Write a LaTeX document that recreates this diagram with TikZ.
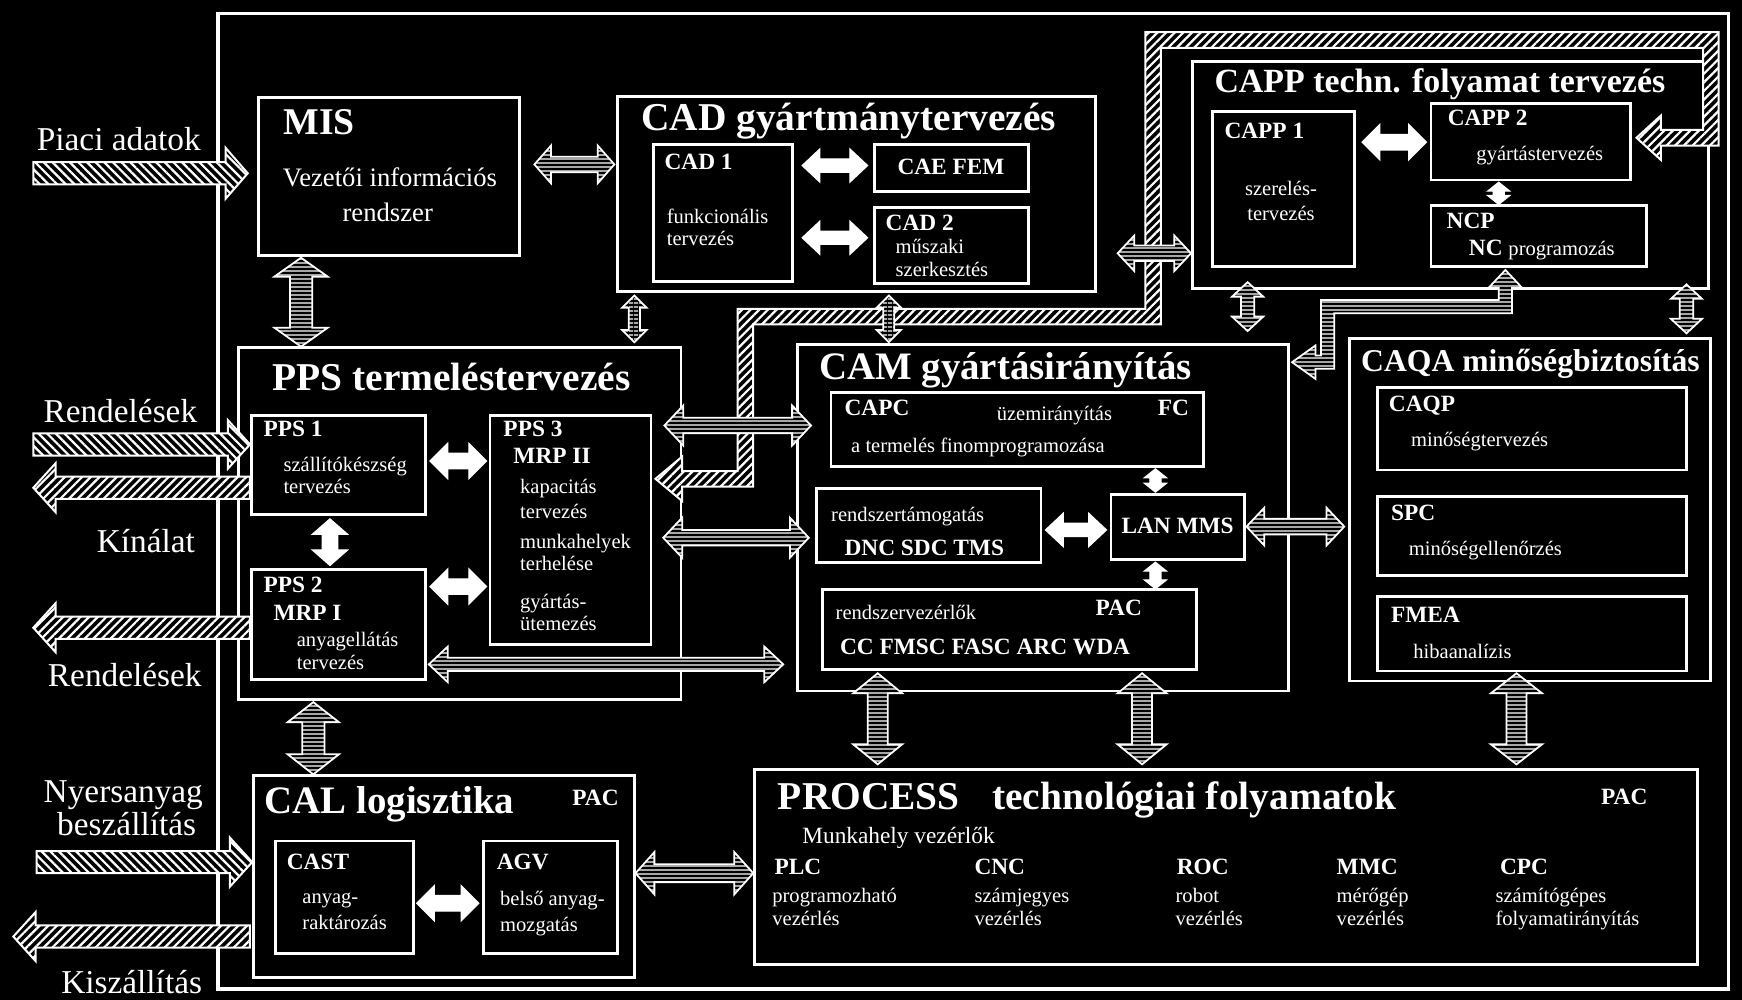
\documentclass[tikz,border=0pt]{standalone}
\usepackage{fontspec}
\setmainfont{Liberation Serif}
\usetikzlibrary{calc,patterns.meta}

% block arrow with a head at both ends:
% #1 style, #2 start, #3 end, #4 head length, #5 head half-width, #6 body half-width
\newcommand\fatarrow[6]{%
  \path (#2) coordinate (fa-a) (#3) coordinate (fa-b);
  \path ($(fa-a)!#4!(fa-b)$) coordinate (fa-ah) ($(fa-b)!#4!(fa-a)$) coordinate (fa-bh);
  \path[#1] (fa-a) -- ($(fa-ah)!#5!90:(fa-b)$) -- ($(fa-ah)!#6!90:(fa-b)$)
    -- ($(fa-bh)!#6!-90:(fa-a)$) -- ($(fa-bh)!#5!-90:(fa-a)$) -- (fa-b)
    -- ($(fa-bh)!#5!90:(fa-a)$) -- ($(fa-bh)!#6!90:(fa-a)$)
    -- ($(fa-ah)!#6!-90:(fa-b)$) -- ($(fa-ah)!#5!-90:(fa-b)$) -- cycle;}
% block arrow with a single head at the end
\newcommand\onearrow[6]{%
  \path (#2) coordinate (fa-a) (#3) coordinate (fa-b);
  \path ($(fa-b)!#4!(fa-a)$) coordinate (fa-bh);
  \path[#1] ($(fa-a)!#6!90:(fa-b)$) -- ($(fa-bh)!#6!-90:(fa-a)$)
    -- ($(fa-bh)!#5!-90:(fa-a)$) -- (fa-b) -- ($(fa-bh)!#5!90:(fa-a)$)
    -- ($(fa-bh)!#6!90:(fa-a)$) -- ($(fa-a)!#6!-90:(fa-b)$) -- cycle;}

\begin{document}
\begin{tikzpicture}[x=1pt,y=-1pt,
  every node/.append style={text=white},
  box/.style={draw=white,line width=2.6pt,anchor=north west,inner sep=0pt,outer sep=0pt},
  ttl/.style={font=\fontsize{34}{40}\selectfont\bfseries,anchor=mid west,inner sep=0pt,yshift=-10pt},
  subhd/.style={font=\fontsize{21}{24}\selectfont\bfseries,anchor=mid west,inner sep=0pt,yshift=-6pt},
  txt/.style={font=\fontsize{18.5}{21}\selectfont,anchor=mid west,inner sep=0pt,yshift=-6pt},
  lbl/.style={font=\fontsize{30}{34}\selectfont,anchor=mid west,inner sep=0pt,yshift=-8pt},
  whitearr/.style={fill=white,draw=white,line width=1pt,line join=miter},
  stripearr/.style={draw=white,line width=1.6pt,line join=miter,preaction={fill=black},
    pattern={Lines[angle=0,distance=4pt,line width=1.4pt]},pattern color=white},
  hatchne/.style={draw=white,line width=1.8pt,line join=miter,preaction={fill=black},
    pattern={Lines[angle=45,distance=5.5pt,line width=2pt]},pattern color=white},
  hatchnw/.style={draw=white,line width=1.8pt,line join=miter,preaction={fill=black},
    pattern={Lines[angle=-45,distance=5.5pt,line width=2pt]},pattern color=white}]

\useasboundingbox (0,0) rectangle (1568,900);
\fill[black] (0,0) rectangle (1568,900);

% ---------- frame and boxes ----------
\node[box,line width=3.2pt,minimum width=1360pt,minimum height=878pt] (frame) at (196,12) {};

\node[box,minimum width=235pt,minimum height=142pt] (mis) at (233,88) {};

\node[box,minimum width=430pt,minimum height=175pt] (cad) at (556,87) {};
\node[box,minimum width=125pt,minimum height=123pt] (cad1) at (588,130) {};
\node[box,minimum width=139pt,minimum height=42pt] (caefem) at (787,130) {};
\node[box,minimum width=139pt,minimum height=68pt] (cad2) at (787,187) {};

\node[box,minimum width=465pt,minimum height=205pt] (capp) at (1073,55) {};
\node[box,minimum width=128pt,minimum height=140pt] (capp1) at (1091,100) {};
\node[box,minimum width=180pt,minimum height=69pt] (capp2) at (1288,93) {};
\node[box,minimum width=194pt,minimum height=55pt] (ncp) at (1288,185) {};

\node[box,minimum width=398pt,minimum height=317pt] (pps) at (215,313) {};
\node[box,minimum width=157pt,minimum height=89pt] (pps1) at (226,374) {};
\node[box,minimum width=157pt,minimum height=99pt] (pps2) at (226,513) {};
\node[box,minimum width=145pt,minimum height=206pt] (pps3) at (441,374) {};

\node[box,minimum width=442pt,minimum height=312pt] (cam) at (718,310) {};
\node[box,minimum width=335pt,minimum height=67pt] (capc) at (748,353) {};
\node[box,minimum width=202pt,minimum height=66pt] (rst) at (735,440) {};
\node[box,minimum width=120pt,minimum height=59pt] (lan) at (1000,445) {};
\node[box,minimum width=337pt,minimum height=72pt] (rsv) at (740,531) {};

\node[box,minimum width=325pt,minimum height=308pt] (caqa) at (1215,305) {};
\node[box,minimum width=278pt,minimum height=74pt] (caqp) at (1240,349) {};
\node[box,minimum width=278pt,minimum height=71pt] (spc) at (1240,447) {};
\node[box,minimum width=278pt,minimum height=67pt] (fmea) at (1240,537) {};

\node[box,minimum width=343pt,minimum height=182pt] (cal) at (228,698) {};
\node[box,minimum width=124pt,minimum height=101pt] (cast) at (248,757) {};
\node[box,minimum width=121pt,minimum height=101pt] (agv) at (435,757) {};

\node[box,minimum width=849pt,minimum height=175pt] (proc) at (679,693) {};

% ---------- hatched band CAPP 2 -> PPS 3 ----------
\coordinate (bandS) at ($(pps3.east)+(4,-46)$);
\coordinate (bandE) at ($(capp2.east)+(5,-3.5)$);
\path[hatchne] (bandS) -- (614,411) -- (614,424) -- (664,424) -- (664,278) -- (1031,278)
  -- (1031,29) -- (1547,29) -- (1547,131) -- (1495,131) -- (1495,144) -- (bandE)
  -- (1495,104) -- (1495,117) -- (1533,117) -- (1533,43) -- (1045,43) -- (1045,292)
  -- (678,292) -- (678,438) -- (614,438) -- (614,451) -- cycle;

% ---------- striped band NCP -> CAM ----------
\coordinate (ncpS) at ($(ncp.south west)+(67,3)$);
\coordinate (camE) at ($(cam.north east)+(3,16)$);
\path[stripearr] (ncpS) -- (1370,259) -- (1361,259) -- (1361,282) -- (1201,282)
  -- (1201,332) -- (1184,332) -- (1184,341) -- (camE) -- (1184,311) -- (1184,320)
  -- (1189,320) -- (1189,270) -- (1349,270) -- (1349,259) -- (1340,259) -- cycle;

% ---------- striped connectors between the modules ----------
\fatarrow{stripearr}{$(mis.south west)+(38,2)$}{$(pps.north west)+(56,-1)$}{17pt}{24pt}{10pt}
\fatarrow{stripearr}{$(mis.east)+(13,-11)$}{$(cad.west)+(-3,-26.5)$}{15pt}{17pt}{7pt}
\fatarrow{stripearr}{$(cad.south west)+(15,4)$}{$(pps.north east)+(-42,-5)$}{11pt}{11pt}{5pt}
\fatarrow{stripearr}{$(cad.south west)+(244,4)$}{$(cam.north west)+(82,-2)$}{11pt}{11pt}{5pt}
\fatarrow{stripearr}{$(cad.east)+(20,53.5)$}{$(capp.west)+(-1,70.5)$}{15pt}{16pt}{7pt}
\fatarrow{stripearr}{$(capp.south west)+(50,-6)$}{$(cam.north east)+(-37,-12)$}{13pt}{14pt}{6pt}
\fatarrow{stripearr}{$(capp.south east)+(-20,-4)$}{$(caqa.north east)+(-22,-5)$}{13pt}{14pt}{6pt}
\fatarrow{stripearr}{$(pps.north east)+(-15,70)$}{$(cam.north west)+(12,73)$}{17pt}{18pt}{7pt}
\fatarrow{stripearr}{$(pps.north east)+(-16,171)$}{$(cam.north west)+(10,174)$}{17pt}{18pt}{7pt}
\fatarrow{stripearr}{$(pps2.east)+(3,35.5)$}{$(cam.south west)+(-13,-24)$}{17pt}{16pt}{6pt}
\fatarrow{stripearr}{$(lan.east)+(2,-0.5)$}{$(caqa.west)+(-5,15)$}{16pt}{17pt}{7pt}
\fatarrow{stripearr}{$(pps.south west)+(67,2)$}{$(cal.north west)+(54,-1)$}{18pt}{23pt}{10pt}
\fatarrow{stripearr}{$(cal.east)+(1,-3)$}{$(proc.west)+(-1,5.5)$}{17pt}{19pt}{8pt}
\fatarrow{stripearr}{$(rsv.south west)+(50,3)$}{$(proc.north west)+(111,-5)$}{18pt}{22pt}{9pt}
\fatarrow{stripearr}{$(rsv.south west)+(288,3)$}{$(proc.north west)+(349,-5)$}{18pt}{22pt}{9pt}
\fatarrow{stripearr}{$(fmea.south west)+(125,2)$}{$(proc.north west)+(686,-5)$}{18pt}{23pt}{9pt}

% ---------- solid connectors inside the modules ----------
\fatarrow{whitearr}{$(pps1.east)+(4,-3.5)$}{$(pps3.west)+(-3,-62)$}{16pt}{16pt}{7pt}
\fatarrow{whitearr}{$(pps2.east)+(4,-34.5)$}{$(pps3.west)+(-3,51)$}{16pt}{16pt}{7pt}
\fatarrow{whitearr}{$(pps1.south west)+(71,4)$}{$(pps2.north west)+(71,-4)$}{14pt}{16pt}{7pt}
\fatarrow{whitearr}{$(cad1.east)+(9,-42.5)$}{$(caefem.west)+(-6,-2)$}{16pt}{15pt}{6pt}
\fatarrow{whitearr}{$(cad1.east)+(9,22.5)$}{$(cad2.west)+(-6,-7)$}{16pt}{15pt}{6pt}
\fatarrow{whitearr}{$(capp1.east)+(7,-42)$}{$(capp2.west)+(-4,0.5)$}{16pt}{16pt}{7pt}
\fatarrow{whitearr}{$(capp2.south west)+(61,2)$}{$(ncp.north west)+(61,-1)$}{8pt}{10pt}{5pt}
\fatarrow{whitearr}{$(capc.south west)+(292,2)$}{$(lan.north west)+(40,-2)$}{8pt}{10pt}{5pt}
\fatarrow{whitearr}{$(rst.east)+(4,4)$}{$(lan.west)+(-4,2.5)$}{16pt}{15pt}{6pt}
\fatarrow{whitearr}{$(lan.south west)+(40,2)$}{$(rsv.north west)+(300,-1)$}{8pt}{10pt}{5pt}
\fatarrow{whitearr}{$(cast.east)+(3,5.5)$}{$(agv.west)+(-4,5.5)$}{16pt}{16pt}{7pt}

% ---------- external flows ----------
\coordinate (piaci) at (30,156);
\coordinate (rend1) at (30,400);
\coordinate (kinal) at (30,439);
\coordinate (rend2) at (30,565);
\coordinate (nyers) at (33,776);
\coordinate (kiszal) at (12,843);
\onearrow{hatchnw}{piaci}{$(mis.west)+(-10,-3)$}{20pt}{23pt}{10pt}
\onearrow{hatchnw}{rend1}{$(pps1.west)+(-1,-18.5)$}{20pt}{22pt}{10pt}
\onearrow{hatchne}{$(pps1.west)+(-1,20.5)$}{kinal}{20pt}{22pt}{10pt}
\onearrow{hatchne}{$(pps2.west)+(-1,2.5)$}{rend2}{20pt}{22pt}{10pt}
\onearrow{hatchnw}{nyers}{$(cal.west)+(-1,-13)$}{20pt}{22pt}{10pt}
\onearrow{hatchne}{$(cal.west)+(-3,54)$}{kiszal}{20pt}{22pt}{10pt}

% ---------- outside labels ----------
\node[lbl] (lPiaci) at (33,125) {Piaci adatok};
\node[lbl] (lRend1) at (39,370) {Rendelések};
\node[lbl] (lKinal) at (87,487) {Kínálat};
\node[lbl] (lRend2) at (43,608) {Rendelések};
\node[lbl,anchor=mid] (lNyers) at (111,712) {Nyersanyag};
\node[lbl,anchor=mid] (lBesz) at (114,742) {beszállítás};
\node[lbl] (lKisz) at (55,884) {Kiszállítás};

% ---------- MIS ----------
\node[ttl] (tMis) at (255,109) {MIS};
\node[txt,font=\fontsize{24}{28}\selectfont,anchor=mid,yshift=-1pt] (tMis1) at (351,159) {Vezetői információs};
\node[txt,font=\fontsize{24}{28}\selectfont,anchor=mid,yshift=-1pt] (tMis2) at (349,190) {rendszer};

% ---------- CAD ----------
\node[ttl,font=\fontsize{35.5}{40}\selectfont\bfseries] (tCad) at (577,105) {CAD gyártmánytervezés};
\node[subhd] (tCad1) at (598,144) {CAD 1};
\node[txt] (tCad1a) at (600,193) {funkcionális};
\node[txt] (tCad1b) at (600,213) {tervezés};
\node[subhd,anchor=mid] (tCae) at (856,149) {CAE FEM};
\node[subhd] (tCad2) at (797,199) {CAD 2};
\node[txt] (tCad2a) at (806,220) {műszaki};
\node[txt] (tCad2b) at (806,241) {szerkesztés};

% ---------- CAPP ----------
\node[ttl,font=\fontsize{30.5}{34}\selectfont\bfseries] (tCapp) at (1093,71) {CAPP techn. folyamat tervezés};
\node[subhd] (tCapp1) at (1102,116) {CAPP 1};
\node[txt,anchor=mid] (tCapp1a) at (1153,168) {szerelés-};
\node[txt,anchor=mid] (tCapp1b) at (1153,190) {tervezés};
\node[subhd] (tCapp2) at (1303,105) {CAPP 2};
\node[txt,anchor=mid] (tCapp2a) at (1386,136) {gyártástervezés};
\node[subhd] (tNcp) at (1302,197) {NCP};
\node[subhd] (tNcpa) at (1322,222) {NC {\mdseries\fontsize{18.5}{21}\selectfont programozás}};

% ---------- PPS ----------
\node[ttl,font=\fontsize{35.5}{40}\selectfont\bfseries] (tPps) at (245,339) {PPS termeléstervezés};
\node[subhd] (tPps1) at (237,385) {PPS 1};
\node[txt] (tPps1a) at (255,416) {szállítókészség};
\node[txt] (tPps1b) at (255,436) {tervezés};
\node[subhd] (tPps2) at (237,525) {PPS 2};
\node[subhd] (tPps2a) at (246,550) {MRP I};
\node[txt] (tPps2b) at (267,574) {anyagellátás};
\node[txt] (tPps2c) at (267,594) {tervezés};
\node[subhd] (tPps3) at (453,385) {PPS 3};
\node[subhd] (tPps3a) at (462,409) {MRP II};
\node[txt] (tPps3b) at (468,436) {kapacitás};
\node[txt] (tPps3c) at (468,458) {tervezés};
\node[txt] (tPps3d) at (468,485) {munkahelyek};
\node[txt] (tPps3e) at (468,505) {terhelése};
\node[txt] (tPps3f) at (468,539) {gyártás-};
\node[txt] (tPps3g) at (468,559) {ütemezés};

% ---------- CAM ----------
\node[ttl,font=\fontsize{35}{40}\selectfont\bfseries] (tCam) at (737,329) {CAM gyártásirányítás};
\node[subhd] (tCapc) at (760,366) {CAPC};
\node[txt] (tCapca) at (897,370) {üzemirányítás};
\node[subhd] (tFc) at (1042,366) {FC};
\node[txt] (tCapcb) at (766,399) {a termelés finomprogramozása};
\node[txt] (tRst) at (748,461) {rendszertámogatás};
\node[subhd] (tRsta) at (760,492) {DNC SDC TMS};
\node[subhd,anchor=mid] (tLan) at (1060,472) {LAN MMS};
\node[txt] (tRsv) at (752,549) {rendszervezérlők};
\node[subhd] (tRsvPac) at (986,546) {PAC};
\node[subhd] (tRsva) at (756,581) {CC FMSC FASC ARC WDA};

% ---------- CAQA ----------
\node[ttl,font=\fontsize{28.5}{34}\selectfont\bfseries] (tCaqa) at (1225,322) {CAQA minőségbiztosítás};
\node[subhd] (tCaqp) at (1250,362) {CAQP};
\node[txt] (tCaqpa) at (1270,394) {minőségtervezés};
\node[subhd] (tSpc) at (1252,460) {SPC};
\node[txt] (tSpca) at (1268,492) {minőségellenőrzés};
\node[subhd] (tFmea) at (1252,552) {FMEA};
\node[txt] (tFmeaa) at (1272,584) {hibaanalízis};

% ---------- CAL ----------
\node[ttl,font=\fontsize{35}{40}\selectfont\bfseries] (tCal) at (238,720) {CAL logisztika};
\node[subhd] (tCalPac) at (515,717) {PAC};
\node[subhd] (tCast) at (258,774) {CAST};
\node[txt] (tCasta) at (272,805) {anyag-};
\node[txt] (tCastb) at (272,828) {raktározás};
\node[subhd] (tAgv) at (447,774) {AGV};
\node[txt] (tAgva) at (450,807) {belső anyag-};
\node[txt] (tAgvb) at (450,830) {mozgatás};

% ---------- PROCESS ----------
\node[ttl,font=\fontsize{35.5}{40}\selectfont\bfseries] (tProc) at (700,716) {PROCESS};
\node[ttl,font=\fontsize{35.5}{40}\selectfont\bfseries] (tProca) at (893,716) {technológiai folyamatok};
\node[subhd] (tProcPac) at (1441,716) {PAC};
\node[txt,font=\fontsize{21}{24}\selectfont] (tMunk) at (722,751) {Munkahely vezérlők};
\node[subhd] (tPlc) at (697,779) {PLC};
\node[txt] (tPlca) at (695,804) {programozható};
\node[txt] (tPlcb) at (695,825) {vezérlés};
\node[subhd] (tCnc) at (877,779) {CNC};
\node[txt] (tCnca) at (877,804) {számjegyes};
\node[txt] (tCncb) at (877,825) {vezérlés};
\node[subhd] (tRoc) at (1059,779) {ROC};
\node[txt] (tRoca) at (1058,804) {robot};
\node[txt] (tRocb) at (1058,825) {vezérlés};
\node[subhd] (tMmc) at (1203,779) {MMC};
\node[txt] (tMmca) at (1203,804) {mérőgép};
\node[txt] (tMmcb) at (1203,825) {vezérlés};
\node[subhd] (tCpc) at (1350,779) {CPC};
\node[txt] (tCpca) at (1346,804) {számítógépes};
\node[txt] (tCpcb) at (1346,825) {folyamatirányítás};
\end{tikzpicture}
\end{document}
